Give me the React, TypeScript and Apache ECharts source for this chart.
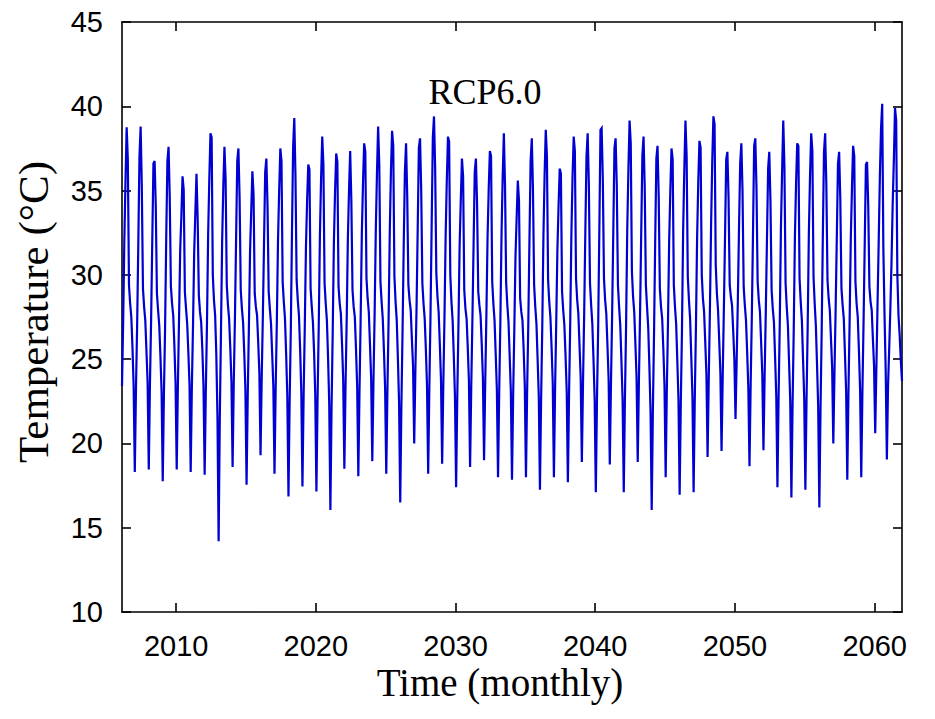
import React, { useEffect, useRef } from "react";
import * as echarts from "echarts";

// Monthly series starts in February 2006 (one value per month, mid-month position)
const startYear = 2006;
const startMonth = 2;

// Monthly temperature (°C); one row per year (Jan..Dec)
const temps2006to2010 = [
  23.4, 27.2, 32.0, 35.6, 38.75, 36.85, 29.4, 28.3, 27.5, 25.7, 23.4,
  18.3, 23.2, 27.0, 31.8, 37.0, 38.8, 35.3, 29.2, 28.1, 27.3, 25.5, 23.6,
  18.45, 23.5, 27.3, 32.0, 36.6, 36.75, 34.1, 28.9, 27.9, 27.0, 25.2, 23.1,
  17.75, 22.9, 26.8, 32.2, 36.75, 37.6, 34.6, 29.3, 28.3, 27.6, 25.8, 23.6,
  18.45, 23.4, 27.4, 31.5, 33.5, 35.85, 35.05, 29.0, 28.0, 27.1, 25.4, 23.5,
];
const temps2011to2020 = [
  18.3, 23.3, 27.0, 31.3, 33.7, 36.0, 33.3, 28.8, 27.8, 27.2, 25.6, 23.4,
  18.15, 23.1, 27.1, 32.4, 35.7, 38.4, 38.15, 30.0, 28.5, 27.6, 25.3, 21.6,
  14.2, 21.5, 26.5, 31.9, 35.2, 37.6, 35.65, 29.4, 28.2, 27.4, 25.7, 23.7,
  18.6, 23.6, 27.4, 32.1, 36.75, 37.5, 34.6, 29.1, 28.0, 27.2, 25.4, 23.2,
  17.55, 22.8, 26.9, 31.4, 33.8, 36.15, 34.8, 28.9, 28.1, 27.6, 26.0, 24.2,
  19.3, 23.9, 27.6, 31.9, 36.1, 36.9, 34.1, 29.0, 28.0, 27.1, 25.3, 23.4,
  18.2, 23.3, 27.2, 32.0, 35.0, 37.5, 36.75, 29.6, 28.4, 27.4, 25.3, 22.8,
  16.85, 22.5, 26.7, 32.5, 37.6, 39.3, 35.9, 29.7, 28.5, 27.6, 25.6, 23.1,
  17.45, 22.8, 26.9, 31.6, 34.4, 36.55, 36.25, 29.2, 28.1, 27.2, 25.4, 22.9,
  17.15, 22.7, 27.0, 32.3, 35.7, 38.2, 36.55, 29.5, 28.3, 27.3, 25.1, 22.4,
];
const temps2021to2030 = [
  16.05, 22.1, 26.6, 31.9, 34.9, 37.2, 36.7, 29.3, 28.3, 27.7, 25.9, 23.8,
  18.5, 23.4, 27.3, 32.1, 35.0, 37.35, 34.4, 29.1, 28.1, 27.5, 25.6, 23.4,
  18.05, 23.1, 27.4, 32.4, 35.4, 37.8, 37.3, 29.8, 28.6, 27.8, 25.9, 23.9,
  18.95, 23.7, 27.7, 32.6, 36.0, 38.8, 36.55, 29.6, 28.4, 27.4, 25.5, 23.3,
  18.2, 23.2, 27.3, 32.5, 36.1, 38.55, 37.65, 29.9, 28.4, 27.3, 25.0, 22.4,
  16.5, 22.3, 26.7, 31.8, 36.1, 37.8, 34.7, 29.4, 28.5, 27.9, 26.2, 24.6,
  20.0, 24.3, 28.0, 32.7, 37.55, 38.1, 35.1, 29.5, 28.3, 27.4, 25.6, 23.4,
  18.2, 23.3, 27.6, 33.0, 38.15, 39.4, 36.3, 30.1, 28.7, 27.8, 25.9, 23.8,
  18.8, 23.5, 27.5, 32.3, 35.6, 38.2, 37.9, 30.0, 28.4, 27.3, 25.2, 22.8,
  17.4, 22.8, 27.0, 31.7, 34.4, 36.9, 35.85, 29.1, 28.0, 27.4, 25.7, 23.7,
];
const temps2031to2040 = [
  18.6, 23.4, 27.4, 31.8, 36.1, 36.9, 34.2, 29.0, 28.2, 27.6, 25.9, 23.9,
  19.0, 23.6, 27.6, 32.2, 35.1, 37.35, 37.05, 29.6, 28.3, 27.3, 25.3, 23.2,
  18.0, 23.0, 27.2, 32.4, 35.8, 38.4, 35.3, 29.5, 28.2, 27.2, 25.2, 23.1,
  17.85, 22.9, 26.8, 31.1, 33.4, 35.6, 34.4, 28.6, 27.8, 27.3, 25.6, 23.4,
  18.0, 23.1, 27.1, 32.1, 36.75, 38.1, 35.1, 29.4, 28.1, 27.1, 25.0, 22.8,
  17.25, 22.6, 26.9, 32.3, 35.9, 38.6, 37.05, 29.7, 28.4, 27.5, 25.7, 23.6,
  18.0, 23.2, 27.2, 31.5, 34.1, 36.3, 36.0, 29.0, 27.9, 27.0, 25.2, 23.1,
  17.7, 22.9, 27.1, 32.4, 35.8, 38.2, 37.35, 29.8, 28.5, 27.7, 25.8, 23.9,
  18.9, 23.6, 27.7, 32.6, 37.05, 38.4, 35.4, 29.5, 28.2, 27.1, 25.0, 22.6,
  17.1, 22.6, 26.8, 32.5, 38.6, 38.7, 35.7, 29.8, 28.5, 27.7, 25.8, 23.8,
];
const temps2041to2050 = [
  18.75, 23.5, 27.6, 32.5, 37.5, 38.1, 35.3, 29.4, 28.1, 27.0, 24.9, 22.6,
  17.1, 22.6, 27.0, 32.7, 36.3, 39.15, 37.8, 30.2, 28.7, 27.8, 25.9, 23.9,
  18.9, 23.6, 27.7, 32.5, 37.1, 38.2, 35.2, 29.4, 28.1, 26.9, 24.6, 21.9,
  16.05, 21.9, 26.5, 32.0, 36.9, 37.65, 34.7, 29.2, 28.1, 27.4, 25.6, 23.4,
  18.0, 23.2, 27.2, 32.0, 35.0, 37.5, 36.85, 29.4, 28.1, 27.1, 24.9, 22.6,
  16.95, 22.4, 26.7, 32.6, 36.2, 39.15, 37.05, 29.9, 28.5, 27.4, 25.1, 22.8,
  17.1, 22.6, 26.9, 32.2, 35.5, 37.95, 37.55, 30.0, 28.6, 27.8, 26.0, 24.1,
  19.2, 23.8, 27.9, 32.9, 36.7, 39.4, 38.95, 30.6, 28.9, 27.9, 26.1, 24.2,
  19.55, 24.0, 28.0, 32.3, 36.85, 37.3, 34.6, 29.4, 28.7, 28.2, 26.7, 25.0,
  21.45, 25.0, 28.5, 32.8, 36.6, 37.8, 35.0, 29.3, 28.2, 27.3, 25.4, 23.3,
];
const temps2051to2061 = [
  18.65, 23.5, 27.5, 32.4, 37.65, 38.1, 35.2, 29.6, 28.5, 27.8, 26.0, 24.1,
  19.6, 24.0, 27.8, 32.1, 36.3, 37.3, 34.4, 29.1, 28.0, 27.2, 25.1, 22.8,
  17.4, 22.8, 27.1, 32.8, 36.1, 39.15, 36.45, 29.5, 28.1, 27.0, 24.8, 22.5,
  16.8, 22.3, 26.7, 32.2, 35.4, 37.8, 37.65, 29.8, 28.4, 27.3, 25.0, 22.7,
  17.25, 22.6, 27.0, 32.5, 35.9, 38.4, 37.35, 29.9, 28.3, 27.0, 24.7, 22.2,
  16.2, 22.0, 26.6, 32.3, 37.3, 38.4, 35.4, 29.7, 28.6, 27.9, 26.2, 24.5,
  20.0, 24.2, 28.0, 32.2, 36.6, 37.3, 34.5, 29.2, 28.2, 27.4, 25.3, 23.1,
  17.85, 23.0, 27.2, 32.1, 35.1, 37.65, 37.05, 29.6, 28.3, 27.5, 25.5, 23.2,
  18.0, 23.1, 27.3, 31.9, 36.55, 36.7, 34.1, 29.3, 28.4, 27.9, 26.2, 24.6,
  20.6, 24.5, 28.3, 32.0, 35.9, 38.7, 40.15, 31.5, 27.6, 24.3, 19.05, 23.4,
  25.6, 28.0, 30.8, 34.2, 36.8, 39.9, 39.15, 30.0, 27.6, 26.4, 24.9, 23.7,
];

const xTickYears = [2010, 2020, 2030, 2040, 2050, 2060];
const yMin = 10;
const yMax = 45;
const yStep = 5;

const titleText = "RCP6.0";
const xAxisTitle = "Time (monthly)";
const yAxisTitle = "Temperature (°C)";

const SANS = "'Liberation Sans', Arial, Helvetica, sans-serif";
const SERIF = "'Liberation Serif', 'Times New Roman', serif";

export default function App() {
  const ref = useRef<HTMLDivElement>(null);

  useEffect(() => {
    if (!ref.current) return;
    const chart = echarts.init(ref.current, null, { renderer: "svg" });

    const values = [
      ...temps2006to2010,
      ...temps2011to2020,
      ...temps2021to2030,
      ...temps2031to2040,
      ...temps2041to2050,
      ...temps2051to2061,
    ];
    const data = values.map((v, i) => [
      startYear + (startMonth - 1 + i + 0.5) / 12,
      v,
    ]);
    const xMin = data[0][0];
    const xMax = data[data.length - 1][0];

    const axisLineStyle = { color: "#000", width: 1.6 };
    const tickCommon = {
      show: true,
      inside: true,
      length: 9,
      lineStyle: { color: "#000", width: 1.6 },
    };

    chart.setOption({
      animation: false,
      backgroundColor: "#ffffff",
      grid: { left: 122, right: 33, top: 22, bottom: 107 },
      xAxis: [
        {
          type: "value",
          position: "bottom",
          min: xMin,
          max: xMax,
          axisLine: { show: true, onZero: false, lineStyle: axisLineStyle },
          axisTick: { ...tickCommon, customValues: xTickYears },
          axisLabel: {
            show: true,
            customValues: xTickYears,
            color: "#000",
            fontFamily: SANS,
            fontSize: 29,
            margin: 19,
            formatter: (v: number) => String(Math.round(v)),
          },
          splitLine: { show: false },
        },
        {
          type: "value",
          position: "top",
          min: xMin,
          max: xMax,
          axisLine: { show: true, onZero: false, lineStyle: axisLineStyle },
          axisTick: { ...tickCommon, customValues: xTickYears },
          axisLabel: { show: false },
          splitLine: { show: false },
        },
      ],
      yAxis: [
        {
          type: "value",
          position: "left",
          min: yMin,
          max: yMax,
          interval: yStep,
          axisLine: { show: true, onZero: false, lineStyle: axisLineStyle },
          axisTick: { ...tickCommon },
          axisLabel: {
            color: "#000",
            fontFamily: SANS,
            fontSize: 29,
            margin: 19,
          },
          splitLine: { show: false },
        },
        {
          type: "value",
          position: "right",
          min: yMin,
          max: yMax,
          interval: yStep,
          axisLine: { show: true, onZero: false, lineStyle: axisLineStyle },
          axisTick: { ...tickCommon },
          axisLabel: { show: false },
          splitLine: { show: false },
        },
      ],
      series: [
        {
          type: "line",
          xAxisIndex: 0,
          yAxisIndex: 0,
          data,
          showSymbol: false,
          symbol: "none",
          lineStyle: { color: "#0000d2", width: 2.2, join: "miter" },
          itemStyle: { color: "#0000d2" },
        },
      ],
      graphic: [
        {
          type: "text",
          x: 485,
          y: 92,
          style: {
            text: titleText,
            fontFamily: SERIF,
            fontSize: 36,
            fill: "#000",
            textAlign: "center",
            textVerticalAlign: "middle",
          },
        },
        {
          type: "text",
          x: 500,
          y: 682,
          style: {
            text: xAxisTitle,
            fontFamily: SERIF,
            fontSize: 39,
            fill: "#000",
            textAlign: "center",
            textVerticalAlign: "middle",
          },
        },
        {
          type: "text",
          x: 33,
          y: 312,
          rotation: Math.PI / 2,
          style: {
            text: yAxisTitle,
            fontFamily: SERIF,
            fontSize: 43,
            fill: "#000",
            textAlign: "center",
            textVerticalAlign: "middle",
          },
        },
      ],
    });

    return () => {
      chart.dispose();
    };
  }, []);

  return (
    <div
      ref={ref}
      style={{
        position: "fixed",
        left: 0,
        top: 0,
        width: 935,
        height: 719,
        background: "#fff",
      }}
    />
  );
}
